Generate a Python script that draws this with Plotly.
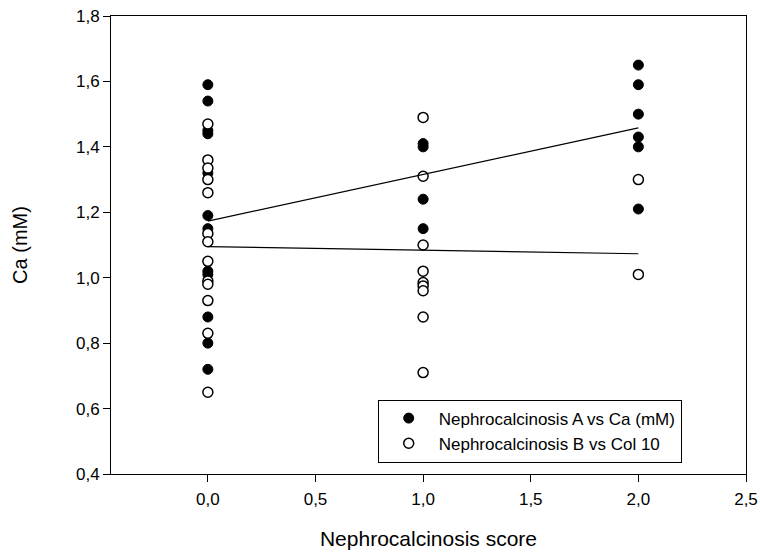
import numpy as np
import plotly.graph_objs as go

# Nephrocalcinosis A vs Ca (mM) (filled)
score_a = [0, 0, 0, 0, 0, 0, 0, 0, 0, 0, 0, 0,
           1, 1, 1, 1,
           2, 2, 2, 2, 2, 2]
ca_a = [1.59, 1.54, 1.45, 1.44, 1.32, 1.19, 1.15, 1.02, 1.01, 0.88, 0.80, 0.72,
        1.41, 1.40, 1.24, 1.15,
        1.65, 1.59, 1.50, 1.43, 1.40, 1.21]

# Nephrocalcinosis B vs Col 10 (open)
score_b = [0, 0, 0, 0, 0, 0, 0, 0, 0, 0, 0, 0, 0,
           1, 1, 1, 1, 1, 1, 1, 1, 1,
           2, 2]
col_b = [1.47, 1.36, 1.335, 1.30, 1.26, 1.135, 1.11, 1.05, 0.99, 0.98, 0.93, 0.83, 0.65,
         1.49, 1.31, 1.10, 1.02, 0.985, 0.975, 0.96, 0.88, 0.71,
         1.30, 1.01]

fit_x = [0, 2]

font = "Liberation Sans, Arial, sans-serif"


def fit_line(x, y):
    slope, intercept = np.polyfit(x, y, 1)
    return [intercept + slope * v for v in fit_x]


fig = go.Figure()
fig.add_trace(go.Scatter(
    x=score_a, y=ca_a, mode="markers", name="Nephrocalcinosis A vs Ca (mM)",
    marker=dict(symbol="circle", size=10, color="black",
                line=dict(color="black", width=1))))
fig.add_trace(go.Scatter(
    x=score_b, y=col_b, mode="markers", name="Nephrocalcinosis B vs Col 10",
    marker=dict(symbol="circle", size=10, color="white",
                line=dict(color="black", width=1.5))))
fig.add_trace(go.Scatter(x=fit_x, y=fit_line(score_a, ca_a), mode="lines",
                         line=dict(color="black", width=1.2), showlegend=False))
fig.add_trace(go.Scatter(x=fit_x, y=fit_line(score_b, col_b), mode="lines",
                         line=dict(color="black", width=1.2), showlegend=False))

axis_style = dict(showline=True, linecolor="black", linewidth=1, mirror=True,
                  ticks="outside", ticklen=7, tickcolor="black", showgrid=False,
                  zeroline=False, automargin=False,
                  tickfont=dict(family=font, size=17, color="black"))

fig.update_layout(
    width=760, height=554,
    margin=dict(l=111, r=14, t=16, b=80),
    plot_bgcolor="white", paper_bgcolor="white",
    separators=", ",
    font=dict(family=font, color="black"),
    xaxis=dict(range=[-0.45, 2.5], tickvals=[0, 0.5, 1, 1.5, 2, 2.5],
               tickformat=".1f", ticklabelstandoff=3,
               title=dict(text="Nephrocalcinosis score", font=dict(size=21), standoff=22),
               **axis_style),
    yaxis=dict(range=[0.4, 1.8], dtick=0.2, tickformat=".1f",
               title=dict(text="Ca (mM)", font=dict(size=20), standoff=42),
               **axis_style),
    legend=dict(x=0.42, y=0.025, xanchor="left", yanchor="bottom",
                bordercolor="black", borderwidth=1, bgcolor="white",
                font=dict(family=font, size=17),
                itemwidth=50, tracegroupgap=0),
    showlegend=True,
)

# drop the page's default body margin so the figure sits at the window origin
fig.write_html("out.html", config={"displayModeBar": False},
               post_script="document.body.style.margin='0';")
